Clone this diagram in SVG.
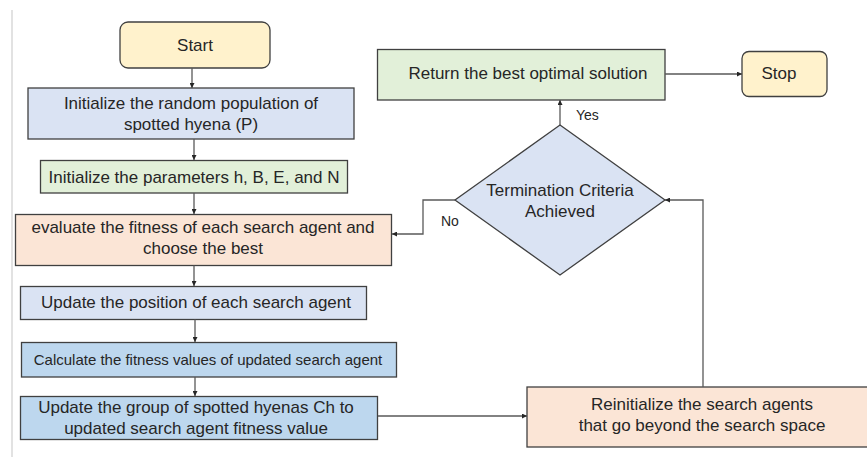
<svg xmlns="http://www.w3.org/2000/svg" width="867" height="457" viewBox="0 0 867 457">
<style>
.n{stroke:#404040;stroke-width:1.3}
.t{font-family:"Liberation Sans",Arial,sans-serif;font-size:17px;fill:#262626;text-anchor:middle}
.s{font-size:15px}
.l{font-family:"Liberation Sans",Arial,sans-serif;font-size:14px;fill:#262626}
.c{fill:none;stroke:#595959;stroke-width:1.3}
</style>
<defs>
<marker id="a" viewBox="0 0 6 6" refX="6" refY="3" markerWidth="5" markerHeight="5" orient="auto" markerUnits="userSpaceOnUse">
<path d="M0,0L6,3L0,6z" fill="#262626"/>
</marker>
</defs>
<rect width="867" height="457" fill="#fff"/>
<line x1="12" y1="10" x2="12" y2="457" stroke="#d9d9d9" stroke-width="1.5"/>
<g id="start"><rect class="n" x="120" y="22" width="150" height="46" rx="8" fill="#fff2cc"/><text class="t" x="195" y="51">Start</text></g>
<g id="init-pop"><rect class="n" x="28" y="88" width="326" height="51" fill="#dae3f3"/><text class="t" x="191" y="109">Initialize the random population of</text><text class="t" x="191" y="130">spotted hyena (P)</text></g>
<g id="init-params"><rect class="n" x="40.5" y="160.5" width="307" height="32.5" fill="#e2f0d9"/><text class="t" x="194" y="183">Initialize the parameters h, B, E, and N</text></g>
<g id="evaluate"><rect class="n" x="15.5" y="214.5" width="376" height="51" fill="#fbe5d6"/><text class="t" x="203" y="233">evaluate the fitness of each search agent and</text><text class="t" x="203" y="254">choose the best</text></g>
<g id="update-pos"><rect class="n" x="20.5" y="286.5" width="346" height="33" fill="#dae3f3"/><text class="t" x="196" y="308">Update the position of each search agent</text></g>
<g id="calc"><rect class="n" x="21.5" y="342.5" width="375" height="34.5" fill="#bdd7ee"/><text class="t s" x="208" y="365">Calculate the fitness values of updated search agent</text></g>
<g id="update-group"><rect class="n" x="20.5" y="396.5" width="357" height="43" fill="#bdd7ee"/><text class="t" x="196" y="413">Update the group of spotted hyenas Ch to</text><text class="t" x="196" y="434">updated search agent fitness value</text></g>
<g id="reinit"><rect class="n" x="527" y="387" width="342" height="60" fill="#fbe5d6"/><text class="t" x="702" y="410">Reinitialize the search agents</text><text class="t" x="702" y="431">that go beyond the search space</text></g>
<g id="decision"><polygon class="n" points="560,125 665,200 560,275 455,200" fill="#dae3f3"/><text class="t" x="560" y="196">Termination Criteria</text><text class="t" x="560" y="217">Achieved</text></g>
<g id="return"><rect class="n" x="377.5" y="49.5" width="287.5" height="50.5" fill="#e2f0d9"/><text class="t" x="528" y="79">Return the best optimal solution</text></g>
<g id="stop"><rect class="n" x="742" y="51.5" width="85" height="45" rx="7" fill="#fff2cc"/><text class="t" x="779" y="79">Stop</text></g>
<g id="connectors">
<line class="c" x1="192" y1="68" x2="192" y2="88" marker-end="url(#a)"/>
<line class="c" x1="194" y1="139" x2="194" y2="160" marker-end="url(#a)"/>
<line class="c" x1="194" y1="193" x2="194" y2="214" marker-end="url(#a)"/>
<line class="c" x1="194" y1="265.5" x2="194" y2="286" marker-end="url(#a)"/>
<line class="c" x1="195" y1="319.5" x2="195" y2="342" marker-end="url(#a)"/>
<line class="c" x1="195" y1="377" x2="195" y2="396" marker-end="url(#a)"/>
<line class="c" x1="378" y1="416" x2="527" y2="416" marker-end="url(#a)"/>
<polyline class="c" points="703,387 703,200 665,200" marker-end="url(#a)"/>
<polyline class="c" points="455,200 423,200 423,234 392,234" marker-end="url(#a)"/>
<line class="c" x1="560" y1="125" x2="560" y2="100" marker-end="url(#a)"/>
<line class="c" x1="665" y1="74" x2="742" y2="74" marker-end="url(#a)"/>
<text class="l" x="441" y="226">No</text>
<text class="l" x="576" y="120">Yes</text>
</g>
</svg>
